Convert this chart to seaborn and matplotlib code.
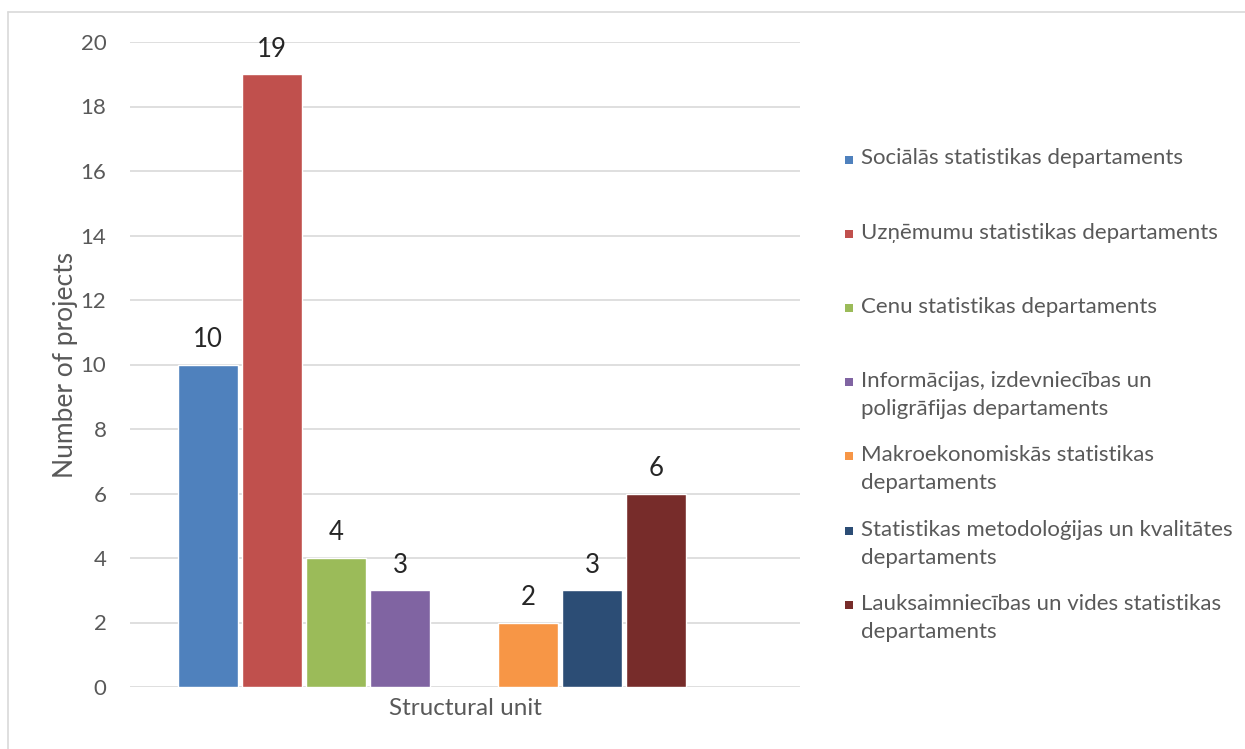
import matplotlib
matplotlib.use("Agg")
import matplotlib.pyplot as plt
from matplotlib.patches import Rectangle
from matplotlib.lines import Line2D
import seaborn as sns
import pandas as pd
import numpy as np

# ---- data ----
series = [
    "Sociālās statistikas departaments",
    "Uzņēmumu statistikas departaments",
    "Cenu statistikas departaments",
    "Informācijas, izdevniecības un\npoligrāfijas departaments",
    "Makroekonomiskās statistikas\ndepartaments",
    "Statistikas metodoloģijas un kvalitātes\ndepartaments",
    "Lauksaimniecības un vides statistikas\ndepartaments",
]
values = [10, 19, 4, 3, 2, 3, 6]
colors = ["#4F81BD", "#C0504D", "#9BBB59", "#8064A2", "#F79646", "#2C4D75", "#772C2A"]
category = "Structural unit"
y_label = "Number of projects"
y_ticks = [0, 2, 4, 6, 8, 10, 12, 14, 16, 18, 20]

# slot order in the cluster (two empty series slots, as in the original)
slot_order = series[:4] + [" "] + series[4:] + ["  "]

df = pd.DataFrame({"series": series, "value": values})
palette = dict(zip(series, colors))
palette[" "] = "#ffffff"
palette["  "] = "#ffffff"

sns.set_theme(style="white")
FONT = ["Lato", "DejaVu Sans"]
plt.rcParams["font.family"] = FONT

W, H = 1245, 749
fig = plt.figure(figsize=(W / 100, H / 100), dpi=100)
ax = fig.add_axes([130 / W, (H - 687) / H, 670 / W, 645 / H])

sns.barplot(data=df, x="series", y="value", hue="series", order=slot_order,
            hue_order=slot_order, palette=palette, dodge=False, legend=False,
            saturation=1, width=0.94, edgecolor="white", linewidth=1.0, ax=ax, zorder=3)

for cont in ax.containers:
    ax.bar_label(cont, labels=[f"{v:g}" if not np.isnan(v) else "" for v in cont.datavalues],
                 padding=9, fontsize=18.5, color="#262626")

ax.set_ylim(0, 20)
ax.set_xlim(-1.22, 9.25)
ax.set_yticks(y_ticks)
ax.yaxis.grid(True, color="#D9D9D9", linewidth=1.2, zorder=0)
ax.set_axisbelow(True)
ax.tick_params(axis="y", length=0, pad=17, labelsize=16, labelcolor="#595959")
ax.set_xticks([])
ax.set_xlabel(category, fontsize=17.5, color="#595959", labelpad=8)
ax.set_ylabel(y_label, fontsize=19, color="#595959", labelpad=2)
for s in ax.spines.values():
    s.set_visible(False)

# legend (Excel-style, evenly spaced entries)
lx, ly0, dy, line_h = 849, 159.5, 74.2, 28
for i, (name, c) in enumerate(zip(series, colors)):
    y = ly0 + dy * i
    fig.patches.append(Rectangle(((lx - 4) / W, 1 - (y + 4) / H), 8 / W, 8 / H,
                                 transform=fig.transFigure, facecolor=c, edgecolor="none"))
    for j, line in enumerate(name.split("\n")):
        fig.text(861 / W, 1 - (y - 1 + line_h * j) / H, line, va="center", ha="left",
                 fontsize=16.0, color="#595959")

# chart-area border (left and top visible)
fig.add_artist(Line2D([8 / W, 8 / W], [0, 1 - 12 / H], transform=fig.transFigure,
                      color="#D9D9D9", linewidth=1.2))
fig.add_artist(Line2D([8 / W, 1], [1 - 12 / H, 1 - 12 / H], transform=fig.transFigure,
                      color="#D9D9D9", linewidth=1.2))

fig.savefig("out.png", dpi=100)
